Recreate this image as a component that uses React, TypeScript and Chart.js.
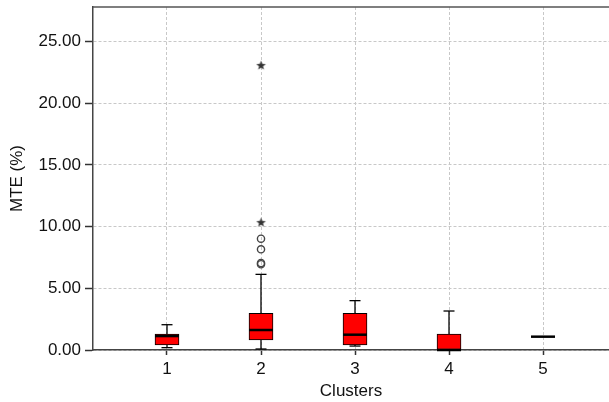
import React, { useEffect, useRef } from "react";
import { Chart, registerables } from "chart.js";

Chart.register(...registerables);

const categories = [1, 2, 3, 4, 5];
const categoryLabels = ["1", "2", "3", "4", "5"];
const q1 = [0.41, 0.81, 0.41, 0.0, 1.08];
const q3 = [1.3, 2.97, 2.97, 1.3, 1.08];
const medians = [1.13, 1.62, 1.24, 0.0, 1.08];
const whiskerLow = [0.19, 0.08, 0.32, 0.0, 1.08];
const whiskerHigh = [2.05, 6.13, 4.0, 3.16, 1.08];
const circleOutlierCat = [2, 2, 2, 2];
const circleOutlierVal = [6.95, 7.05, 8.16, 9.02];
const starOutlierCat = [2, 2];
const starOutlierVal = [10.32, 23.05];
const yTicks = [0, 5, 10, 15, 20, 25];

const FONT = "'Liberation Sans', Arial, Helvetica, sans-serif";

function makeStar(): HTMLCanvasElement {
  const c = document.createElement("canvas");
  c.width = 11;
  c.height = 11;
  const ctx = c.getContext("2d")!;
  ctx.fillStyle = "#333";
  ctx.beginPath();
  for (let i = 0; i < 10; i++) {
    const r = i % 2 === 0 ? 5 : 2.1;
    const a = -Math.PI / 2 + (i * Math.PI) / 5;
    const x = 5.5 + r * Math.cos(a);
    const y = 5.5 + r * Math.sin(a);
    if (i === 0) ctx.moveTo(x, y);
    else ctx.lineTo(x, y);
  }
  ctx.closePath();
  ctx.fill();
  return c;
}

const boxPlugin = {
  id: "boxExtras",
  afterDatasetsDraw(chart: any) {
    const { ctx, scales, chartArea } = chart;
    const xs = scales.x;
    const ys = scales.y;
    ctx.save();
    ctx.strokeStyle = "#000";
    categories.forEach((c, i) => {
      const x = xs.getPixelForValue(c);
      const half = 12;
      const cap = 5.5;
      ctx.lineWidth = 1.3;
      ctx.beginPath();
      ctx.moveTo(x, ys.getPixelForValue(q3[i]));
      ctx.lineTo(x, ys.getPixelForValue(whiskerHigh[i]));
      ctx.moveTo(x, ys.getPixelForValue(q1[i]));
      ctx.lineTo(x, ys.getPixelForValue(whiskerLow[i]));
      ctx.stroke();
      if (whiskerHigh[i] !== q3[i]) {
        ctx.beginPath();
        ctx.moveTo(x - cap, ys.getPixelForValue(whiskerHigh[i]));
        ctx.lineTo(x + cap, ys.getPixelForValue(whiskerHigh[i]));
        ctx.stroke();
      }
      if (whiskerLow[i] !== q1[i]) {
        ctx.beginPath();
        ctx.moveTo(x - cap, ys.getPixelForValue(whiskerLow[i]));
        ctx.lineTo(x + cap, ys.getPixelForValue(whiskerLow[i]));
        ctx.stroke();
      }
      ctx.lineWidth = 2.5;
      ctx.beginPath();
      ctx.moveTo(x - half, ys.getPixelForValue(medians[i]));
      ctx.lineTo(x + half, ys.getPixelForValue(medians[i]));
      ctx.stroke();
    });
    ctx.strokeStyle = "#555";
    ctx.lineWidth = 1.5;
    ctx.beginPath();
    ctx.moveTo(chartArea.left, chartArea.top);
    ctx.lineTo(chartArea.right, chartArea.top);
    ctx.stroke();
    ctx.restore();
  },
};

export default function App() {
  const ref = useRef<HTMLCanvasElement>(null);
  useEffect(() => {
    const star = makeStar();
    const chart = new Chart(ref.current!, {
      type: "bar",
      data: {
        datasets: [
          {
            type: "bar",
            data: categories.map((c, i) => ({ x: c, y: [q1[i], q3[i]] })) as any,
            backgroundColor: "#ff0000",
            borderColor: "#000",
            borderWidth: 1,
            borderSkipped: false,
            barThickness: 24,
          },
          {
            type: "scatter",
            data: circleOutlierCat.map((c, i) => ({ x: c, y: circleOutlierVal[i] })),
            pointStyle: "circle",
            pointRadius: 3.6,
            borderColor: "#444",
            borderWidth: 1.4,
            backgroundColor: "rgba(0,0,0,0)",
          },
          {
            type: "scatter",
            data: starOutlierCat.map((c, i) => ({ x: c, y: starOutlierVal[i] })),
            pointStyle: star as any,
            pointRadius: 5,
          },
        ] as any,
      },
      options: {
        animation: false,
        responsive: false,
        maintainAspectRatio: false,
        layout: { padding: { top: 7, right: 0, left: 0, bottom: 0 } },
        plugins: { legend: { display: false }, tooltip: { enabled: false } },
        scales: {
          x: {
            type: "linear",
            offset: false,
            min: 0.2128,
            max: 5.702,
            afterBuildTicks: (s: any) => {
              s.ticks = categories.map((v) => ({ value: v }));
            },
            afterFit: (s: any) => {
              s.height = 52;
              s.paddingLeft = 0;
              s.paddingRight = 0;
            },
            ticks: {
              callback: (v: any) => categoryLabels[categories.indexOf(Number(v))] ?? "",
              font: { family: FONT, size: 17 },
              color: "#111",
              padding: 4,
              maxRotation: 0,
            },
            grid: {
              offset: false,
              color: "#c8c8c8",
              lineWidth: 1,
              tickLength: 5,
              tickColor: "#333",
              tickWidth: 1.5,
              tickBorderDash: [],
            },
            border: { display: true, color: "#444", width: 1.5, dash: [3, 2] },
            title: {
              display: true,
              text: "Clusters",
              font: { family: FONT, size: 17 },
              color: "#111",
              padding: { top: 0, bottom: 0 },
            },
          },
          y: {
            type: "linear",
            min: 0,
            max: 27.8,
            afterBuildTicks: (s: any) => {
              s.ticks = yTicks.map((v) => ({ value: v }));
            },
            afterFit: (s: any) => {
              s.width = 93;
              s.paddingTop = 0;
              s.paddingBottom = 0;
            },
            ticks: {
              callback: (v: any) => Number(v).toFixed(2),
              font: { family: FONT, size: 17 },
              color: "#111",
              padding: 4,
            },
            grid: {
              color: "#c8c8c8",
              lineWidth: 1,
              tickLength: 8,
              tickColor: "#333",
              tickWidth: 1.5,
              tickBorderDash: [],
            },
            border: { display: true, color: "#444", width: 1.5, dash: [3, 2] },
            title: {
              display: true,
              text: "MTE (%)",
              font: { family: FONT, size: 17 },
              color: "#111",
              padding: { top: 7, bottom: 0 },
            },
          },
        },
      },
      plugins: [boxPlugin],
    });
    return () => chart.destroy();
  }, []);
  return (
    <div style={{ position: "absolute", left: 0, top: 0, width: 609, height: 402, overflow: "hidden", background: "#fff" }}>
      <canvas ref={ref} width={615} height={402} style={{ display: "block" }} />
    </div>
  );
}
